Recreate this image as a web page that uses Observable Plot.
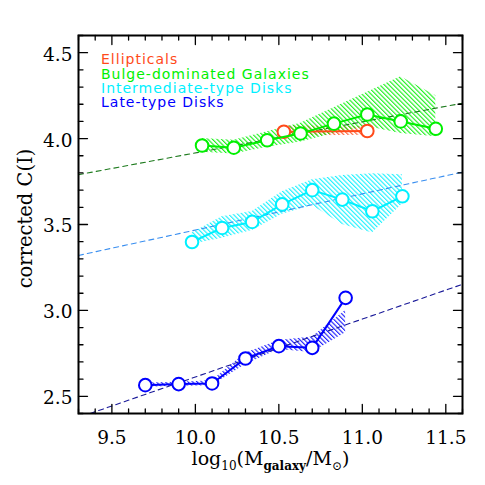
<!DOCTYPE html>
<html><head><meta charset="utf-8">
<script src="https://cdn.jsdelivr.net/npm/d3@7"></script>
<script src="https://cdn.jsdelivr.net/npm/@observablehq/plot@0.6"></script>
<style>
body{margin:0;background:#fff;}
#chart{width:485px;height:485px;}
</style>
</head><body><div id="chart"></div>
<script>
// ---- data ----
const series = ["Ellipticals", "Bulge-dominated Galaxies", "Intermediate-type Disks", "Late-type Disks"];
const colors = ["#ff4a1a", "#00f000", "#00f0ff", "#0000ff"];
const fitColors = ["#1e7b1e", "#3a8ff0", "#1a1a99"];

const ellX = [10.53, 11.03];
const ellY = [4.04, 4.044];
const ellLo = [4.015, 4.02];
const ellHi = [4.075, 4.07];

const bulgeX = [10.04, 10.23, 10.43, 10.63, 10.83, 11.03, 11.23, 11.44];
const bulgeY = [3.96, 3.947, 3.99, 4.03, 4.087, 4.14, 4.10, 4.057];
const bulgeLo = [3.92, 3.91, 3.95, 3.98, 4.03, 4.07, 4.03, 4.01];
const bulgeHi = [4.00, 3.99, 4.04, 4.09, 4.18, 4.27, 4.36, 4.25];

const interX = [9.98, 10.16, 10.34, 10.52, 10.70, 10.88, 11.06, 11.24];
const interY = [3.398, 3.48, 3.515, 3.617, 3.70, 3.645, 3.577, 3.664];
const interLo = [3.385, 3.42, 3.465, 3.56, 3.61, 3.50, 3.45, 3.62];
const interHi = [3.45, 3.545, 3.575, 3.69, 3.76, 3.785, 3.795, 3.79];

const lateX = [9.70, 9.90, 10.10, 10.30, 10.50, 10.70, 10.90];
const lateY = [2.565, 2.571, 2.575, 2.72, 2.792, 2.782, 3.073];
const lateLo = [2.553, 2.558, 2.562, 2.685, 2.772, 2.755, 2.87];
const lateHi = [2.577, 2.582, 2.59, 2.75, 2.825, 2.845, 3.0];

const bulgeFitX = [9.3, 11.6], bulgeFitY = [3.79, 4.206];
const interFitX = [9.3, 11.6], interFitY = [3.32, 3.805];
const lateFitX = [9.37, 11.6], lateFitY = [2.40, 3.152];

const xMajor = [9.5, 10.0, 10.5, 11.0, 11.5];
const yMajor = [2.5, 3.0, 3.5, 4.0, 4.5];
const xMinor = d3.range(93, 117).map(d => d / 10).filter(v => !xMajor.some(m => Math.abs(m - v) < 1e-6));
const yMinor = d3.range(24, 47).map(d => d / 10).filter(v => !yMajor.some(m => Math.abs(m - v) < 1e-6));

// ---- helpers ----
const rows = (X, Y, Lo, Hi) => X.map((x, i) => ({x, y: Y[i], lo: Lo[i], hi: Hi[i]}));
const fitRows = (X, Y) => X.map((x, i) => ({x, y: Y[i]}));
const hatchIds = ["hatch-ell", "hatch-bulge", "hatch-inter", "hatch-late"];
const groups = [
  rows(ellX, ellY, ellLo, ellHi),
  rows(bulgeX, bulgeY, bulgeLo, bulgeHi),
  rows(interX, interY, interLo, interHi),
  rows(lateX, lateY, lateLo, lateHi)
];
const tickShape = {draw(context, l) { context.moveTo(0, 0); context.lineTo(0, -l); }};
const tickMarks = (values, side, len) => {
  const o = {frameAnchor: side, length: len, anchor: "start", shape: tickShape, stroke: "black", strokeWidth: 1.3};
  if (side === "bottom") return Plot.vector(values, {...o, x: d => d, rotate: 0});
  if (side === "top") return Plot.vector(values, {...o, x: d => d, rotate: 180});
  if (side === "left") return Plot.vector(values, {...o, y: d => d, rotate: 90});
  return Plot.vector(values, {...o, y: d => d, rotate: -90});
};

const marks = [];
// hatched bands
groups.forEach((g, i) => marks.push(Plot.areaY(g, {x: "x", y1: "lo", y2: "hi", fill: `url(#${hatchIds[i]})`, curve: "linear"})));
// fit lines
[[bulgeFitX, bulgeFitY], [interFitX, interFitY], [lateFitX, lateFitY]].forEach(([X, Y], i) =>
  marks.push(Plot.line(fitRows(X, Y), {x: "x", y: "y", stroke: fitColors[i], strokeWidth: 1.1, strokeDasharray: "5,4"})));
// series lines + points
groups.forEach((g, i) => {
  marks.push(Plot.line(g, {x: "x", y: "y", stroke: colors[i], strokeWidth: 2}));
  marks.push(Plot.dot(g, {x: "x", y: "y", r: 6.3, fill: "white", stroke: colors[i], strokeWidth: 2}));
});
// legend
series.forEach((s, i) => marks.push(Plot.text([s], {
  text: d => d, fill: colors[i], frameAnchor: "top-left", textAnchor: "start", lineAnchor: "bottom",
  dx: 22.5, dy: 28.7 + i * 14.3, fontSize: 14, fontFamily: "DejaVu Sans"
})));
// axes
marks.push(Plot.axisX({ticks: xMajor, tickSize: 0, tickPadding: 17, tickFormat: d3.format(".1f"), label: null, fontSize: 18.5, fill: "black"}));
marks.push(Plot.axisY({ticks: yMajor, tickSize: 0, tickPadding: 6, dy: 2, tickFormat: d3.format(".1f"), label: null, fontSize: 18.5, fill: "black"}));
["bottom", "top"].forEach(s => { marks.push(tickMarks(xMajor, s, 9)); marks.push(tickMarks(xMinor, s, 4.5)); });
["left", "right"].forEach(s => { marks.push(tickMarks(yMajor, s, 9)); marks.push(tickMarks(yMinor, s, 4.5)); });
// axis titles
marks.push(Plot.text(["log10(Mgalaxy/M⊙)"], {text: d => d, frameAnchor: "bottom", textAnchor: "middle", lineAnchor: "bottom", dy: 51, fontSize: 19, fill: "black"}));
marks.push(Plot.text(["corrected C(I)"], {text: d => d, frameAnchor: "left", textAnchor: "middle", lineAnchor: "bottom", rotate: -90, dx: -47, dy: -6, fontSize: 19.5, fill: "black"}));
marks.push(Plot.frame({stroke: "black", strokeWidth: 2}));

const svg = Plot.plot({
  width: 485, height: 485,
  marginLeft: 78, marginRight: 23, marginTop: 35, marginBottom: 72,
  x: {domain: [9.3, 11.6]},
  y: {domain: [2.4, 4.6]},
  style: {fontFamily: "DejaVu Serif", background: "white", color: "black", overflow: "visible"},
  marks
});

// hatch patterns
const ns = "http://www.w3.org/2000/svg";
const defs = document.createElementNS(ns, "defs");
defs.innerHTML = hatchIds.map((id, i) =>
  `<pattern id="${id}" patternUnits="userSpaceOnUse" width="3.2" height="8" patternTransform="rotate(-45)">` +
  `<line x1="0.6" y1="0" x2="0.6" y2="8" stroke="${colors[i]}" stroke-width="1"/></pattern>`).join("");
svg.insertBefore(defs, svg.firstChild);

// legend letter spacing + axis title subscripts
svg.querySelectorAll("text").forEach(t => {
  const s = t.textContent;
  if (series.includes(s)) t.setAttribute("letter-spacing", "1");
  if (s === "log10(Mgalaxy/M⊙)") {
    t.innerHTML = 'log<tspan dy="5" font-size="12">10</tspan><tspan dy="-5">(M</tspan>' +
      '<tspan dy="5" font-size="12" font-weight="bold">galaxy</tspan><tspan dy="-5">/M</tspan>' +
      '<tspan dy="5" font-size="12">⊙</tspan><tspan dy="-5">)</tspan>';
  }
});
document.getElementById("chart").appendChild(svg);
</script>
</body></html>
